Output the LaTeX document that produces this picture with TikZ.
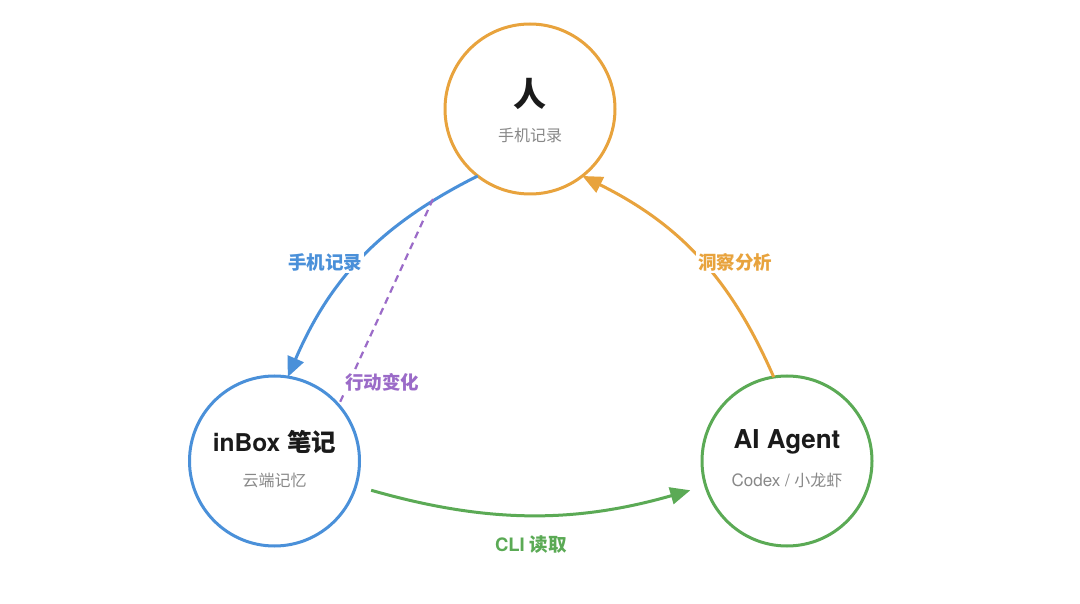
\documentclass[tikz,border=0pt]{standalone}
\usepackage{fontspec}
\setmainfont{TeX Gyre Heros}
\newfontfamily\cjk{Noto Sans CJK SC}
\usetikzlibrary{arrows.meta,calc}
\definecolor{cblue}{HTML}{4A90D9}
\definecolor{corange}{HTML}{E8A33D}
\definecolor{cgreen}{HTML}{5BAA55}
\definecolor{cpurple}{HTML}{9B6BC8}
\definecolor{cgray}{HTML}{888888}
\definecolor{ctext}{HTML}{1A1A1A}
\begin{document}
\begin{tikzpicture}[x=1pt,y=-1pt,
  hub/.style={circle,draw,line width=3pt,minimum size=170pt,inner sep=0pt,outer sep=0pt,fill=white},
  title/.style={text=ctext,font=\bfseries\fontsize{24.5}{26}\selectfont},
  sub/.style={text=cgray,font=\fontsize{16}{18}\selectfont},
  flow/.style={line width=3pt,-{Triangle[length=20pt,width=17pt]}},
  lbl/.style={font=\bfseries\fontsize{18.5}{20}\selectfont,fill=white,inner sep=2pt}
]
\useasboundingbox[fill=white] (0,0) rectangle (1080,604);
\node[hub,draw=corange] (top) at (530,109) {};
\node[hub,draw=cblue] (left) at (274.5,461) {};
\node[hub,draw=cgreen] (right) at (787,461) {};

\node[text=ctext,font=\bfseries\fontsize{33}{35}\selectfont] (tt) at (530,94) {\cjk 人};
\node[sub] (ts) at (530,135) {\cjk 手机记录};
\node[title] (lt) at (274.5,442) {inBox {\cjk 笔记}};
\node[sub] (ls) at (274.5,480) {\cjk 云端记忆};
\node[title,font=\bfseries\fontsize{26}{28}\selectfont] (rt) at (787,442) {AI Agent};
\node[sub] (rs) at (787,480) {{\fontsize{17}{18}\selectfont Codex /} {\cjk 小龙虾}};

\draw[flow,cblue] (top.-128) to[bend right=20] (left.81);
\draw[flow,corange] (right.99) to[bend right=20] (top.-52);
\draw[flow,cgreen,shorten <=16pt,shorten >=16pt] (left.-17) to[bend right=16] (right.197);

\coordinate (dtop) at (433,199);
\draw[cpurple,line width=2.2pt,dash pattern=on 7pt off 5pt] (dtop) -- (left.41);

\node[lbl,text=cblue] (l1) at (325,262) {\cjk 手机记录};
\node[lbl,text=corange] (l2) at (735,262) {\cjk 洞察分析};
\node[lbl,text=cpurple] (l3) at (382,382) {\cjk 行动变化};
\node[lbl,text=cgreen] (l4) at (531,545) {CLI {\cjk 读取}};
\end{tikzpicture}
\end{document}
